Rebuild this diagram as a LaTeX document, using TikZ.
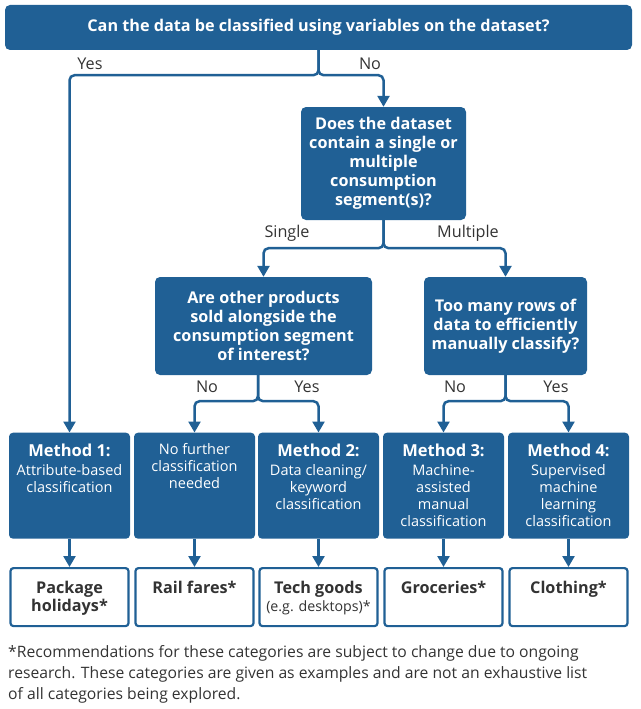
\documentclass[tikz,border=0pt]{standalone}
\usepackage{fontspec}
\setmainfont{Open Sans}
\usepackage{xcolor}
\usetikzlibrary{arrows.meta}
\definecolor{onsblue}{HTML}{206095}
\definecolor{txtgrey}{HTML}{333333}
\newcommand{\mtext}[1]{\parbox[c][106pt][t]{121pt}{\centering\fontsize{14.5}{17}\selectfont\vspace*{11pt}#1}}
\newcommand{\mhead}[1]{{\fontsize{16.5}{17}\selectfont\bfseries #1}}
\newcommand{\rtext}[1]{\parbox[c][58pt][t]{118pt}{\centering\fontsize{16.2}{18}\selectfont\bfseries\vspace*{13pt}#1}}

\begin{document}
\begin{tikzpicture}[x=1pt,y=-1pt,
    qbox/.style={fill=onsblue, rounded corners=5pt, text=white, align=center,
        font=\fontsize{16.2}{19}\selectfont\bfseries, inner sep=0pt},
    mbox/.style={fill=onsblue, rounded corners=4pt, text=white, anchor=north, inner sep=0pt},
    rbox/.style={draw=onsblue, line width=2.2pt, fill=white, rounded corners=3pt,
        text=txtgrey, anchor=north, inner sep=0pt},
    lbl/.style={text=txtgrey, font=\fontsize{16.2}{18}\selectfont},
    link/.style={draw=onsblue, line width=2.5pt, rounded corners=5pt},
    arr/.style={link, -{Triangle[length=11pt,width=12pt]}}]
    \useasboundingbox (0,0) rectangle (640,709);

    % questions
    \node[qbox, minimum width=627pt, minimum height=45pt] (q1) at (318.5,27.5)
        {Can the data be classified using variables on the dataset?};
    \node[qbox, minimum width=165pt, minimum height=113pt] (q2) at (383.5,163.5)
        {Does the dataset\\contain a single or\\multiple\\consumption\\segment(s)?};
    \node[qbox, minimum width=217pt, minimum height=98pt] (q3) at (263.5,326)
        {Are other products\\sold alongside the\\consumption segment\\of interest?};
    \node[qbox, minimum width=163pt, minimum height=98pt] (q4) at (505.5,326)
        {Too many rows of\\data to efficiently\\manually classify?};

    % methods
    \node[mbox] (m1) at (69.5,432.5) {\mtext{\mhead{Method 1:}\\[2pt]Attribute-based\\classification}};
    \node[mbox] (m2) at (194.5,432.5) {\mtext{No further\\classification\\needed}};
    \node[mbox] (m3) at (318.5,432.5) {\mtext{\mhead{Method 2:}\\[2pt]Data cleaning/\\keyword\\classification}};
    \node[mbox] (m4) at (443.5,432.5) {\mtext{\mhead{Method 3:}\\[2pt]Machine-\\assisted\\manual\\classification}};
    \node[mbox] (m5) at (568.5,432.5) {\mtext{\mhead{Method 4:}\\[2pt]Supervised\\machine\\learning\\classification}};

    % results
    \node[rbox] (r1) at (69.5,567) {\rtext{Package\\holidays*}};
    \node[rbox] (r2) at (194.5,567) {\rtext{Rail fares*}};
    \node[rbox] (r3) at (318.5,567) {\rtext{Tech goods\\[0pt]{\fontsize{14.2}{14}\selectfont\mdseries (e.g. desktops)*}}};
    \node[rbox] (r4) at (443.5,567) {\rtext{Groceries*}};
    \node[rbox] (r5) at (568.5,567) {\rtext{Clothing*}};

    % junctions
    \coordinate (j1) at ([yshift=-25pt]q1.south);
    \coordinate (j2) at ([yshift=-28pt]q2.south);
    \coordinate (s3) at ([xshift=-5.5pt]q3.south);
    \coordinate (j3) at ([yshift=-26pt]s3);
    \coordinate (j4) at ([yshift=-26pt]q4.south);

    \draw[arr] (q1.south) -- (j1) -| (m1.north);
    \draw[arr] (q1.south) -- (j1) -| (q2.north);
    \draw[arr] (q2.south) -- (j2) -| (q3.north);
    \draw[arr] (q2.south) -- (j2) -| (q4.north);
    \draw[arr] (s3) -- (j3) -| (m2.north);
    \draw[arr] (s3) -- (j3) -| (m3.north);
    \draw[arr] (q4.south) -- (j4) -| (m4.north);
    \draw[arr] (q4.south) -- (j4) -| (m5.north);
    \foreach \i in {1,...,5}
        \draw[arr] (m\i.south) -- (r\i.north);

    % branch labels
    \node[lbl] (yes1) at (90,64) {Yes};
    \node[lbl] (no1) at (370,64) {No};
    \node[lbl] (single) at (287,233) {Single};
    \node[lbl] (multi) at (468,233) {Multiple};
    \node[lbl] (no3) at (207,387) {No};
    \node[lbl] (yes3) at (307,387) {Yes};
    \node[lbl] (no4) at (455,387) {No};
    \node[lbl] (yes4) at (556,387) {Yes};

    % footnote
    \node[lbl, anchor=north west, align=left, inner sep=0pt,
        font=\fontsize{15.7}{21}\selectfont] (note) at (8,645)
        {*Recommendations for these categories are subject to change due to ongoing\\
         research. These categories are given as examples and are not an exhaustive list\\
         of all categories being explored.};
\end{tikzpicture}
\end{document}
